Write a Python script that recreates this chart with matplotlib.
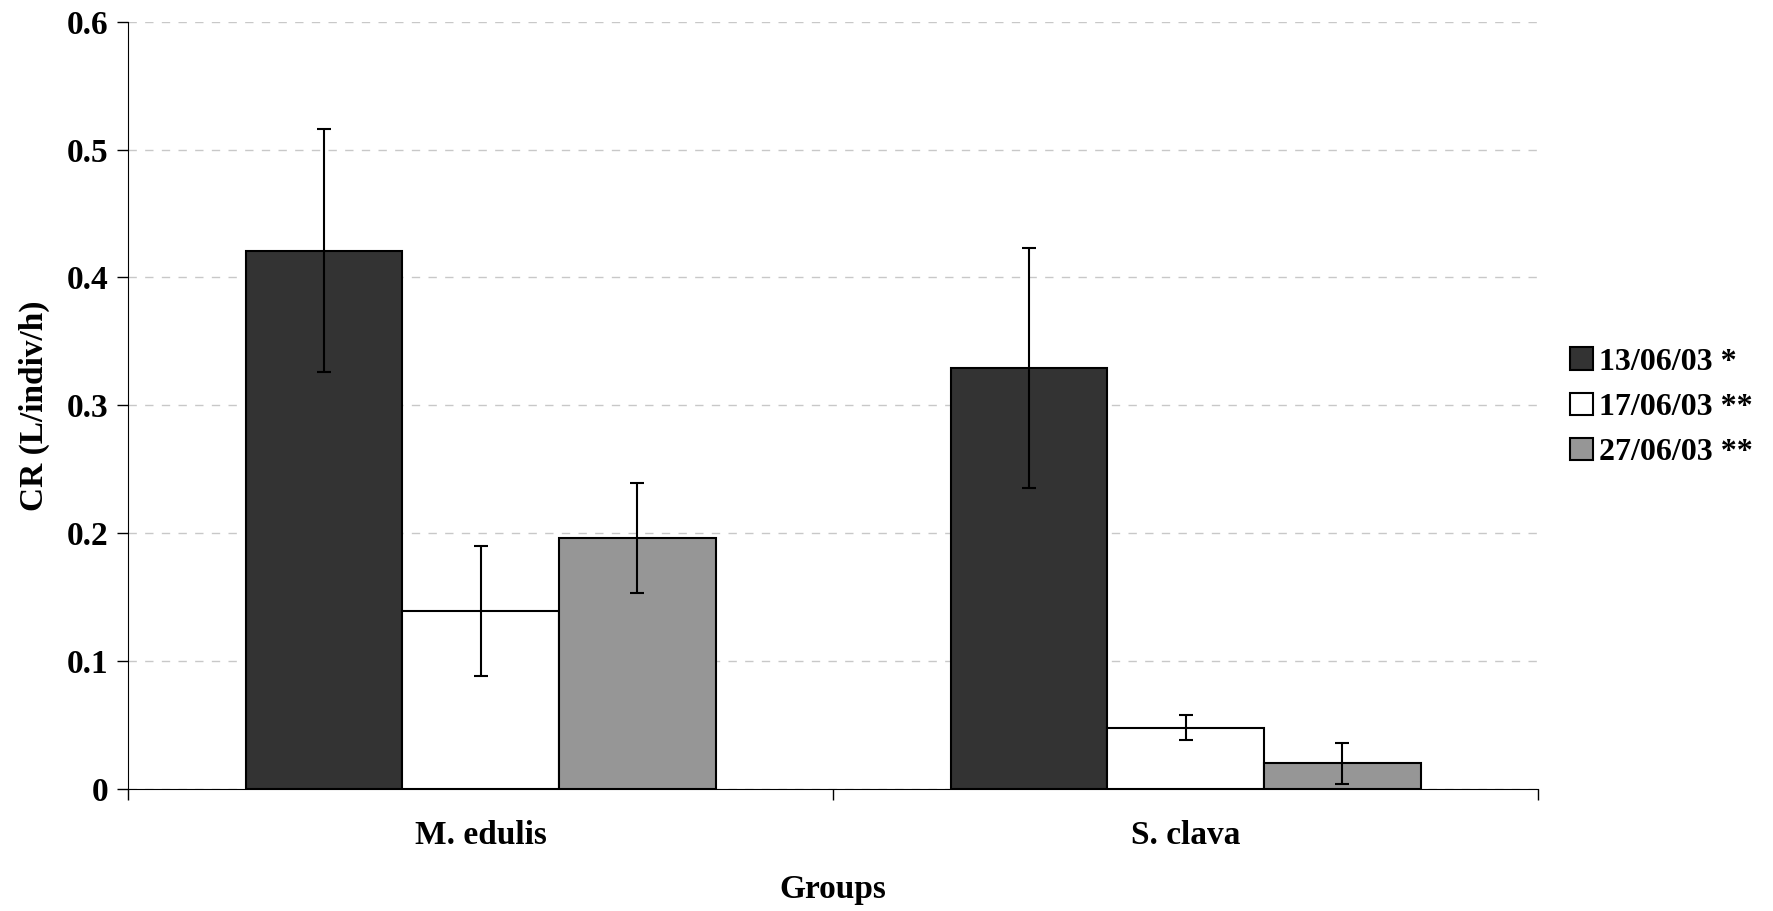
# 그룹별 막대그래프 (CR, 오차막대 포함)
import numpy as np
import matplotlib.pyplot as plt
from matplotlib.patches import Patch

plt.rcParams['font.family'] = ['Liberation Serif', 'DejaVu Serif']
plt.rcParams['font.weight'] = 'bold'

# 데이터
groups = ['M. edulis', 'S. clava']
series = ['13/06/03 *', '17/06/03 **', '27/06/03 **']
values = [
    [0.421, 0.329],
    [0.139, 0.048],
    [0.196, 0.020],
]
errors = [
    [0.095, 0.094],
    [0.051, 0.0095],
    [0.043, 0.016],
]
colors = ['#333333', '#ffffff', '#969696']

fig = plt.figure(figsize=(17.73, 9.11), dpi=100)
ax = fig.add_axes([0.0722, 0.1339, 0.7953, 0.8423])

# 막대 그리기 (카테고리 폭 1, 막대 폭 1/4.5)
width = 1 / 4.5
centers = np.arange(len(groups)) + 0.5
for i in range(len(series)):
    pos = centers + (i - 1) * width
    ax.bar(pos, values[i], width=width, color=colors[i], edgecolor='black', linewidth=1.5, zorder=3)
    ax.errorbar(pos, values[i], yerr=errors[i], fmt='none', ecolor='black', elinewidth=1.5,
                capsize=5, capthick=1.5, zorder=4)

# 축 설정
ax.set_xlim(0, len(groups))
ax.set_ylim(0, 0.6)
ax.set_yticks(np.arange(0, 0.61, 0.1))
ax.set_yticklabels(['0', '0.1', '0.2', '0.3', '0.4', '0.5', '0.6'])
ax.set_xticks(np.arange(len(groups) + 1))
ax.set_xticklabels([])
ax.set_xticks(centers, minor=True)
ax.set_xticklabels(groups, minor=True)
ax.tick_params(axis='x', which='minor', length=0, pad=22, labelsize=24)
ax.tick_params(axis='x', which='major', length=8, width=1, direction='out')
ax.tick_params(axis='y', length=8, width=1, direction='out', labelsize=24, pad=6)
for lab in ax.get_xticklabels(minor=True) + ax.get_yticklabels():
    lab.set_fontweight('bold')

ax.spines['top'].set_visible(False)
ax.spines['right'].set_visible(False)
ax.yaxis.grid(True, linestyle=(0, (6, 6)), color='#c8c8c8', linewidth=1, zorder=0)
ax.set_axisbelow(True)

ax.set_ylabel('CR (L/indiv/h)', fontsize=24, fontweight='bold', labelpad=12)
ax.set_xlabel('Groups', fontsize=24, fontweight='bold', labelpad=17)

# 범례
handles = [Patch(facecolor=c, edgecolor='black', linewidth=1.5) for c in colors]
fig.legend(handles, series, loc='center left', bbox_to_anchor=(0.8785, 0.553), frameon=False,
           prop={'size': 23, 'weight': 'bold'}, handlelength=0.7, handleheight=0.7,
           handletextpad=0.2, labelspacing=0.5, borderaxespad=0)

fig.savefig('out.png', dpi=100)
